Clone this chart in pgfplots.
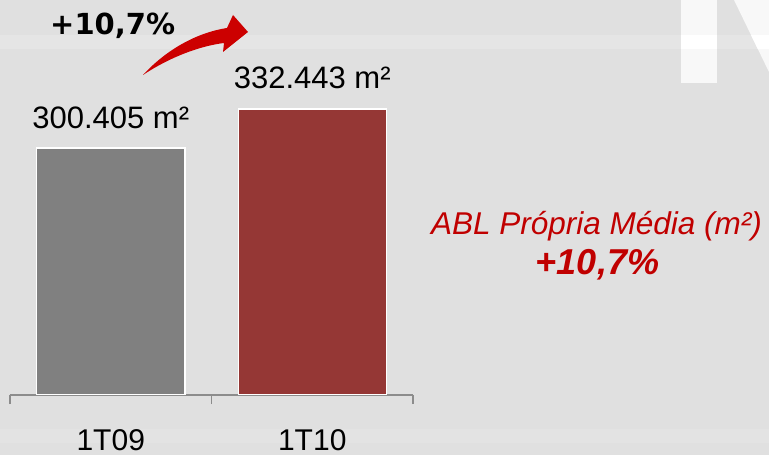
\documentclass[border=0pt]{standalone}
\usepackage{pgfplots}
\pgfplotsset{compat=1.18}
\usepackage{fontspec}
\setmainfont{Liberation Sans}
\newfontfamily\dejavu{DejaVu Sans}
\definecolor{bg}{HTML}{E0E0E0}
\definecolor{band}{HTML}{E5E5E5}
\definecolor{band2}{HTML}{E3E3E3}
\definecolor{logo}{HTML}{F8F8F8}
\definecolor{bargray}{HTML}{808080}
\definecolor{barred}{HTML}{953735}
\definecolor{axgray}{HTML}{8C8C8C}
\definecolor{arrowred}{HTML}{CC0000}
\definecolor{txtred}{HTML}{C00000}
\begin{document}
\begin{tikzpicture}[x=1pt,y=1pt]
\useasboundingbox (0,0) rectangle (769,455);
\fill[bg] (0,0) rectangle (769,455);
\fill[band] (0,406) rectangle (769,420);
\fill[band2] (0,12) rectangle (769,26);
\fill[logo] (681,372) rectangle (717,455);
\fill[logo] (734,455) -- (769,455) -- (769,383) -- cycle;
\fill[white] (681,406) rectangle (717,420);
\fill[white] (751,420) -- (769,420) -- (769,406) -- (757.8,406) -- cycle;
\fill[arrowred] (143,380) .. controls (165,404) and (195,422) .. (227,427) -- (233,440) -- (248,423) -- (223,403) -- (224,412) .. controls (200,409) and (170,398) .. (143,380) -- cycle;
\node[anchor=base west, inner sep=0pt, font=\dejavu\bfseries\fontsize{29}{35}\selectfont] at (50,420) {+10,7\%};
\begin{axis}[
  at={(10pt,60pt)}, anchor=south west,
  scale only axis, width=403pt, height=394pt,
  xmin=-0.5, xmax=1.5, ymin=100000, ymax=420000,
  ybar, bar width=148pt, bar shift=0pt,
  axis y line=none, axis x line*=bottom,
  x axis line style={draw=axgray, line width=1.2pt, -},
  xtick={0,1}, xticklabels={1T09,1T10},
  major tick length=0pt,
  extra x ticks={-0.5,0.5,1.5}, extra x tick labels={},
  extra x tick style={major tick length=9pt, tick align=outside, tick style={draw=axgray, line width=1.2pt}},
  xticklabel style={font=\fontsize{30}{36}\selectfont, anchor=base, yshift=-56pt, inner sep=1pt},
  nodes near coords, point meta=explicit symbolic,
  every node near coord/.append style={font=\fontsize{31}{37}\selectfont, anchor=base, yshift=20pt, text=black},
  axis background/.style={fill=none},
]
\addplot[fill=bargray, draw=white, line width=1.5pt] coordinates {(0,300405) [300.405 m²]};
\addplot[fill=barred, draw=white, line width=1.5pt] coordinates {(1,332443) [332.443 m²]};
\end{axis}
\node[anchor=base, text=txtred, font=\fontsize{31.5}{38}\selectfont\itshape] at (596.5,220) {ABL Própria Média (m²)};
\node[anchor=base, text=txtred, font=\fontsize{36}{43}\selectfont\bfseries\itshape] at (597.5,180) {+10,7\%};
\end{tikzpicture}
\end{document}
